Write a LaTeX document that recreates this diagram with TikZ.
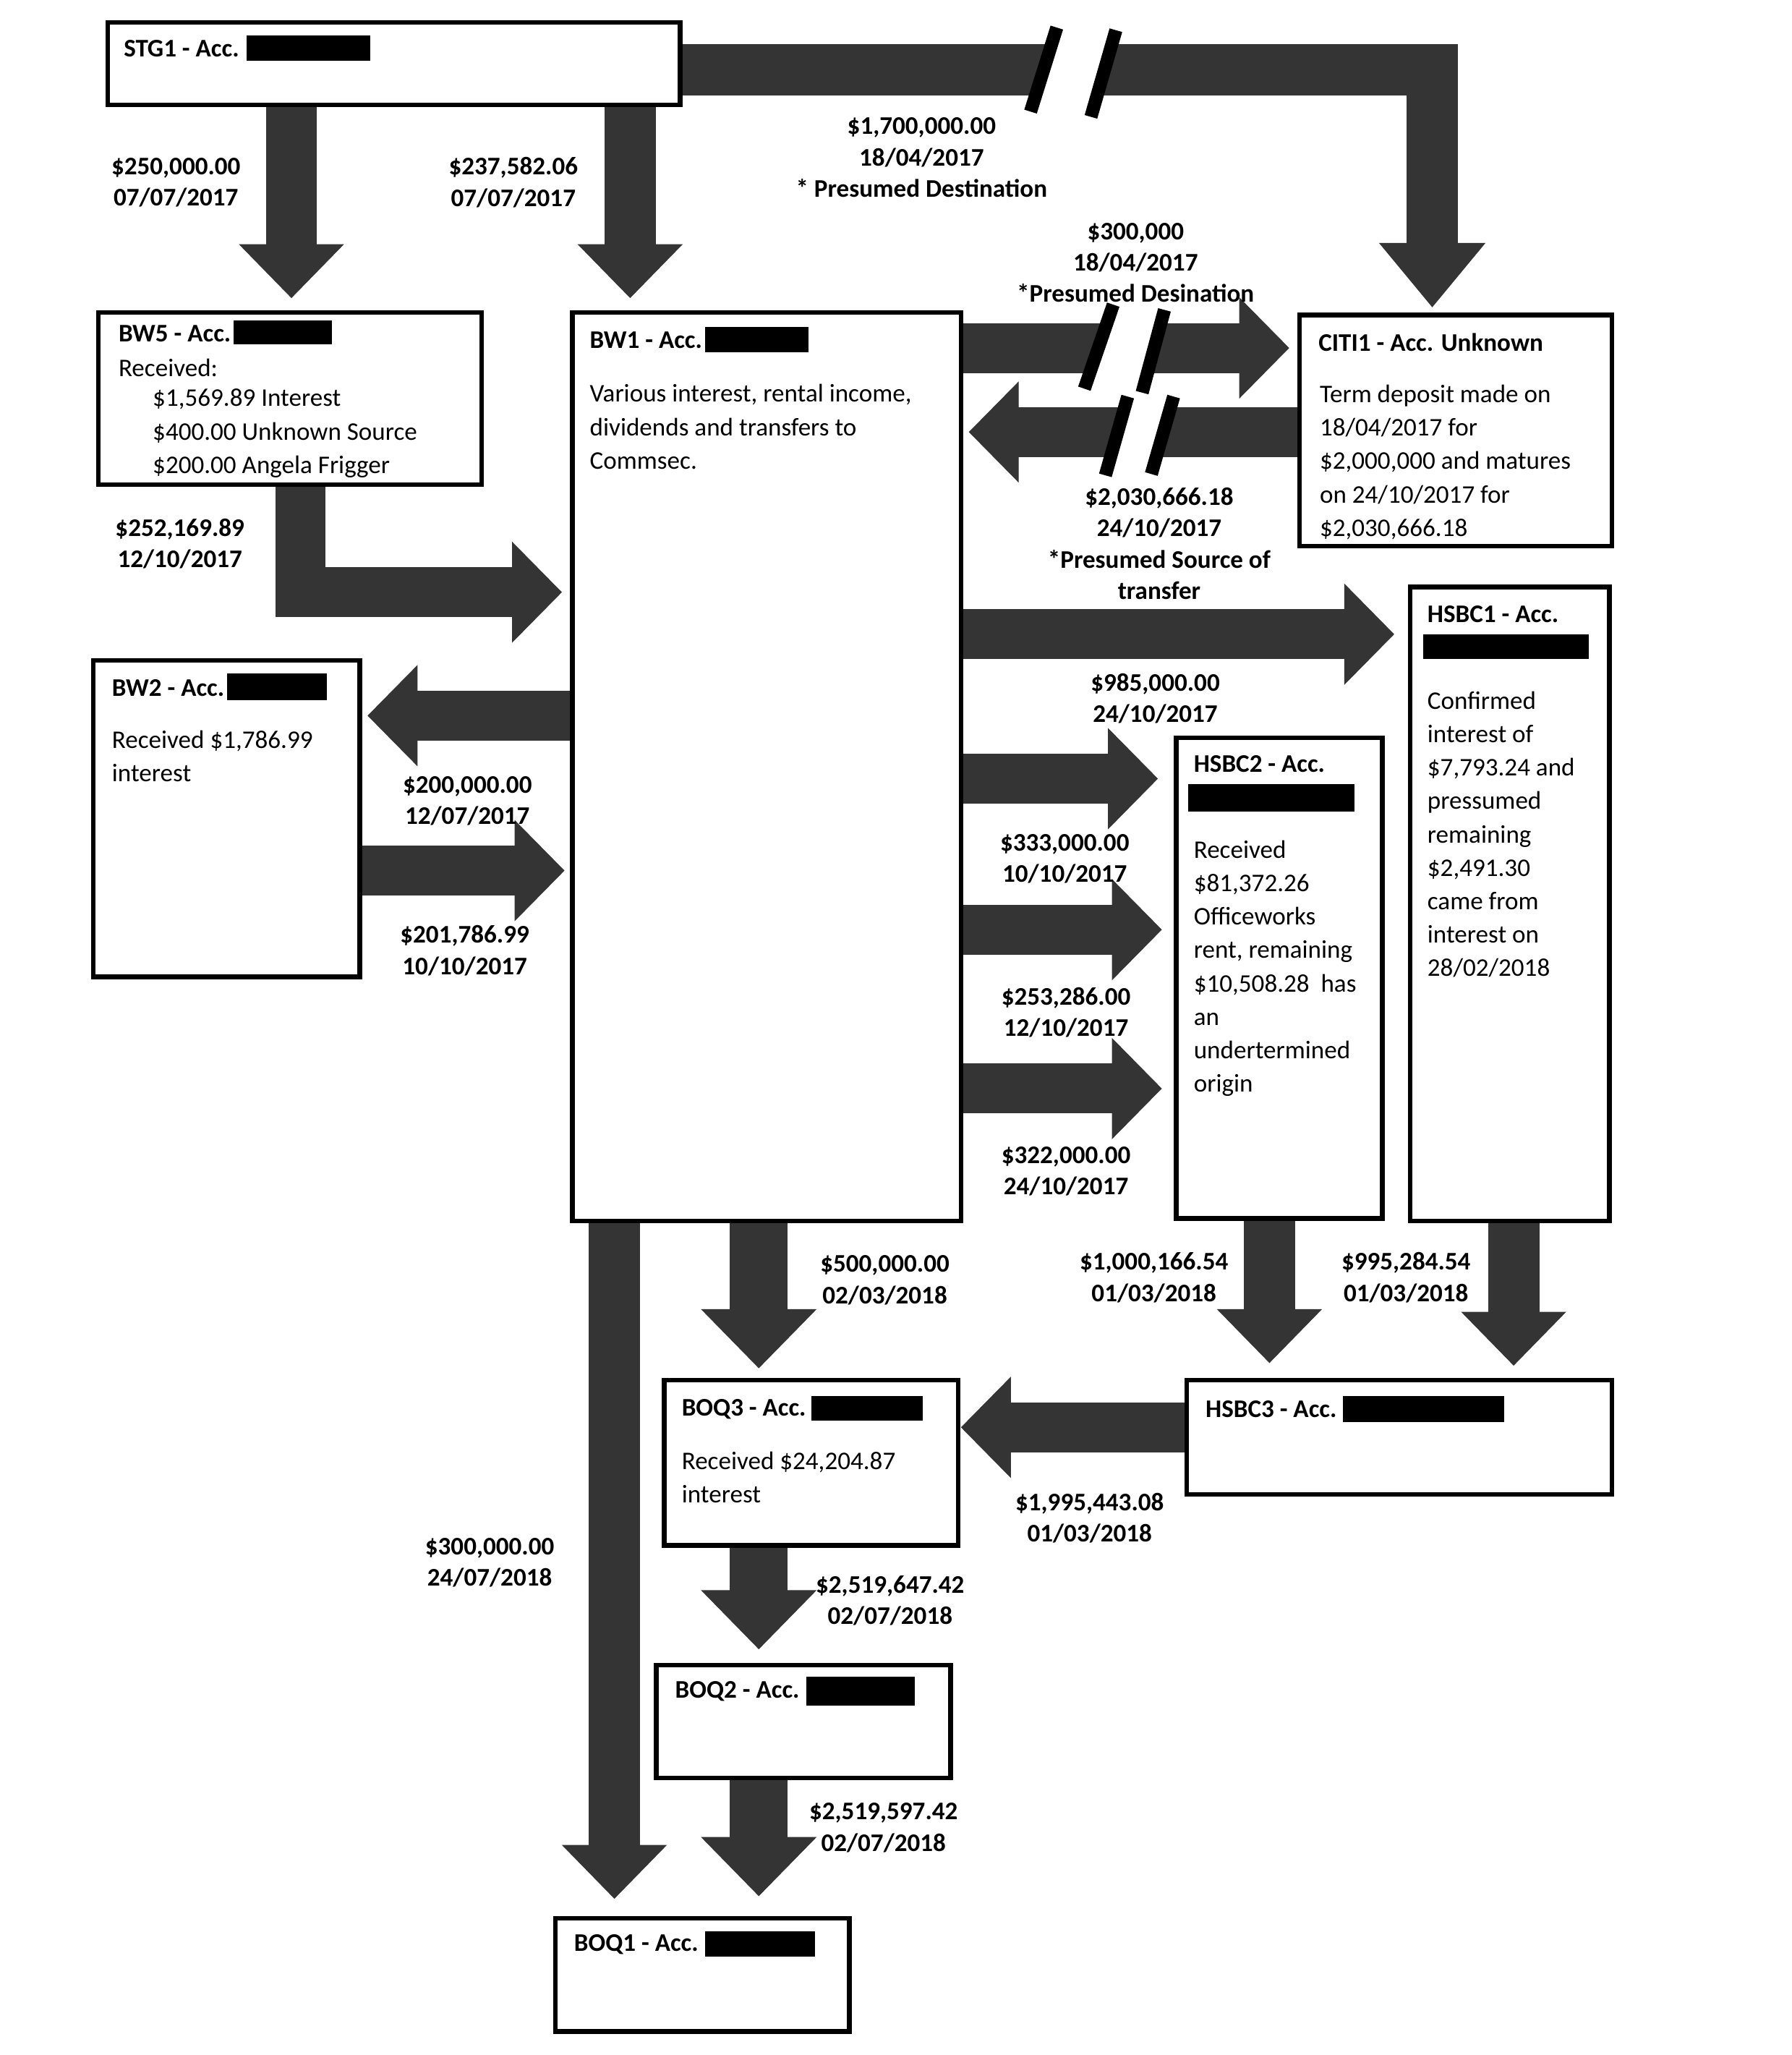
\documentclass[tikz,border=0pt]{standalone}
\usepackage{fontspec}
\setmainfont{Carlito}
\usetikzlibrary{arrows.meta,calc,backgrounds}
\definecolor{arrowgray}{RGB}{52,52,52}
\tikzset{
  acctbox/.style={draw=black, line width=2pt, fill=white, rectangle, anchor=north west, inner sep=0pt, outer sep=0pt},
  boxtitle/.style={font=\fontsize{11}{13.6}\selectfont\bfseries, anchor=west, inner sep=0pt},
  boxbody/.style={font=\fontsize{11}{14.46}\selectfont, anchor=west, align=left, inner sep=0pt},
  amount/.style={font=\fontsize{11}{13.6}\selectfont\bfseries, align=center, inner sep=0pt},
  fatstd/.style={draw=arrowgray, line width=0.76cm, line join=miter, -{Triangle[width=1.54cm,length=0.76cm,line width=0.4pt]}},
  fatwide/.style={draw=arrowgray, line width=0.88cm, line join=miter, -{Triangle[width=1.76cm,length=0.9cm,line width=0.4pt]}},
  fatvert/.style={draw=arrowgray, line width=0.78cm, line join=miter, -{Triangle[width=1.6cm,length=0.82cm,line width=0.4pt]}},
  fatelbow/.style={draw=arrowgray, line width=0.78cm, line join=miter, -{Triangle[width=1.62cm,length=0.98cm,line width=0.4pt]}},
  breakbar/.style={draw=black, line width=0.2cm},
}
\newcommand\mkbox[5]{\node[acctbox, minimum width=#4*0.02cm, minimum height=#5*0.02cm] (#1) at (#2,#3) {};}
\begin{document}
\begin{tikzpicture}[x=0.02cm, y=-0.02cm]
\useasboundingbox (0,0) rectangle (1365,1565);

% boxes
\mkbox{stg}{82}{17}{436}{63}
\mkbox{bwfive}{75}{238}{292}{131}
\mkbox{bwone}{436}{238}{296}{692}
\mkbox{citi}{990}{240}{238}{176}
\mkbox{hsbcone}{1074}{447}{152}{483}
\mkbox{hsbctwo}{896}{562}{157}{366}
\mkbox{bwtwo}{71}{503}{203}{241}
\mkbox{hsbcthree}{904}{1051}{324}{87}
\mkbox{boqthree}{506}{1051}{224}{126}
\mkbox{boqtwo}{500}{1268}{224}{86}
\mkbox{boqone}{423}{1461}{224}{86}

\begin{pgfonlayer}{background}
\fill[white] (0,0) rectangle (1365,1565);
% arrows
\draw[fatvert] ($(stg.south west)+(140,0)$) -- ($(bwfive.north west)+(147,-11)$);
\draw[fatvert] ($(stg.south west)+(398,0)$) -- ($(bwone.north west)+(44,-11)$);
\draw[fatelbow] ($(stg.north east)+(0,36)$) -| ($(citi.north west)+(101,-6)$);
\draw[fatstd] ($(bwone.north east)+(0,27)$) -- ($(citi.north west)+(-8,25)$);
\draw[fatstd] ($(citi.north west)+(0,89)$) -- ($(bwone.north east)+(6,91)$);
\draw[fatstd] ($(bwfive.south west)+(154,0)$) |- ($(bwone.north west)+(-8,213)$);
\draw[fatstd] ($(bwone.north west)+(0,307)$) -- ($(bwtwo.north east)+(6,42)$);
\draw[fatstd] ($(bwtwo.north east)+(0,160)$) -- ($(bwone.north west)+(-6,425)$);
\draw[fatstd] ($(bwone.north east)+(0,245)$) -- ($(hsbcone.north west)+(-12,36)$);
\draw[fatstd] ($(bwone.north east)+(0,355)$) -- ($(hsbctwo.north west)+(-14,31)$);
\draw[fatstd] ($(bwone.north east)+(0,470)$) -- ($(hsbctwo.north west)+(-11,146)$);
\draw[fatstd] ($(bwone.north east)+(0,591)$) -- ($(hsbctwo.north west)+(-11,267)$);
\draw[fatwide] ($(bwone.south west)+(142,0)$) -- ($(boqthree.north west)+(72,-9)$);
\draw[fatvert] ($(bwone.south west)+(32,0)$) -- ($(boqone.north west)+(45,-15)$);
\draw[fatwide] ($(boqthree.south west)+(72,0)$) -- ($(boqtwo.north west)+(78,-12)$);
\draw[fatwide] ($(boqtwo.south west)+(78,0)$) -- ($(boqone.north west)+(155,-17)$);
\draw[fatvert] ($(hsbctwo.south west)+(71,0)$) -- ($(hsbcthree.north west)+(63,-13)$);
\draw[fatvert] ($(hsbcone.south west)+(79,0)$) -- ($(hsbcthree.north west)+(249,-11)$);
\draw[fatstd] ($(hsbcthree.north west)+(0,36)$) -- ($(boqthree.north east)+(2,36)$);
\end{pgfonlayer}

% break marks
\fill[white] (805,23) -- (850,25) -- (831,87) -- (785,83) -- cycle;
\draw[breakbar] (805,21) -- (785,85);
\draw[breakbar] (850,23) -- (831,89);
\fill[white] (848,233) -- (887,237) -- (870,299) -- (826,295) -- cycle;
\draw[breakbar] (848,232) -- (826,296);
\draw[breakbar] (887,236) -- (870,299);
\fill[white] (859,301) -- (894,301) -- (877,361) -- (842,362) -- cycle;
\draw[breakbar] (859,302) -- (842,362);
\draw[breakbar] (894,302) -- (877,361);

% box texts
\node[boxtitle] (stgt) at (94,37) {STG1 - Acc.};
\fill (188,27) rectangle (282,46);

\node[boxtitle] (bwfivet) at (90,254) {BW5 - Acc.};
\fill (178,244) rectangle (253,262);
\node[boxbody] (bwfivea) at (90,280) {Received:};
\node[boxbody] (bwfiveb) at (116,330) {\$1,569.89 Interest\\\$400.00 Unknown Source\\\$200.00 Angela Frigger};

\node[boxtitle] (bwonet) at (449,259) {BW1 - Acc.};
\fill (537,249) rectangle (616,268);
\node[boxbody] (bwoneb) at (449,325) {Various interest, rental income,\\dividends and transfers to\\Commsec.};

\node[boxtitle] (citit) at (1004,261) {CITI1 - Acc. Unknown};
\node[boxbody] (citib) at (1005,352) {Term deposit made on\\18/04/2017 for\\\$2,000,000 and matures\\on 24/10/2017 for\\\$2,030,666.18};

\node[boxtitle] (hsbconet) at (1087,468) {HSBC1 - Acc.};
\fill (1084,483) rectangle (1210,502);
\node[boxbody] (hsbconeb) at (1087,635.5) {Confirmed\\interest of\\\$7,793.24 and\\pressumed\\remaining\\\$2,491.30\\came from\\interest on\\28/02/2018};

\node[boxtitle] (hsbctwot) at (909,582) {HSBC2 - Acc.};
\fill (905,597) rectangle (1032,618);
\node[boxbody] (hsbctwob) at (909,737.5) {Received\\\$81,372.26\\Officeworks\\rent, remaining\\\$10,508.28\ \ has\\an\\undertermined\\origin};

\node[boxtitle] (bwtwot) at (85,524) {BW2 - Acc.};
\fill (173,513) rectangle (249,533);
\node[boxbody] (bwtwob) at (85,576) {Received \$1,786.99\\interest};

\node[boxtitle] (hsbcthreet) at (918,1073) {HSBC3 - Acc.};
\fill (1023,1063) rectangle (1146,1083);

\node[boxtitle] (boqthreet) at (519,1073) {BOQ3 - Acc.};
\fill (618,1063) rectangle (703,1082);
\node[boxbody] (boqthreeb) at (519,1125) {Received \$24,204.87\\interest};

\node[boxtitle] (boqtwot) at (514,1288) {BOQ2 - Acc.};
\fill (614,1277) rectangle (697,1299);

\node[boxtitle] (boqonet) at (437,1481) {BOQ1 - Acc.};
\fill (537,1471) rectangle (621,1490);

% amount labels
\node[amount] (la) at (134,139) {\$250,000.00\\07/07/2017};
\node[amount] (lb) at (391,139) {\$237,582.06\\07/07/2017};
\node[amount] (lc) at (702,120) {\$1,700,000.00\\18/04/2017\\* Presumed Destination};
\node[amount] (ld) at (865,200) {\$300,000\\18/04/2017\\*Presumed Desination};
\node[amount] (le) at (883,414) {\$2,030,666.18\\24/10/2017\\*Presumed Source of\\transfer};
\node[amount] (lf) at (137,414) {\$252,169.89\\12/10/2017};
\node[amount] (lg) at (356,610) {\$200,000.00\\12/07/2017};
\node[amount] (lh) at (354,724) {\$201,786.99\\10/10/2017};
\node[amount] (li) at (880,532) {\$985,000.00\\24/10/2017};
\node[amount] (lj) at (811,654) {\$333,000.00\\10/10/2017};
\node[amount] (lk) at (812,771) {\$253,286.00\\12/10/2017};
\node[amount] (ll) at (812,892) {\$322,000.00\\24/10/2017};
\node[amount] (lm) at (674,975) {\$500,000.00\\02/03/2018};
\node[amount] (ln) at (373,1190) {\$300,000.00\\24/07/2018};
\node[amount] (lo) at (678,1219) {\$2,519,647.42\\02/07/2018};
\node[amount] (lp) at (673,1392) {\$2,519,597.42\\02/07/2018};
\node[amount] (lq) at (879,973) {\$1,000,166.54\\01/03/2018};
\node[amount] (lr) at (1071,973) {\$995,284.54\\01/03/2018};
\node[amount] (ls) at (830,1156) {\$1,995,443.08\\01/03/2018};
\end{tikzpicture}
\end{document}
